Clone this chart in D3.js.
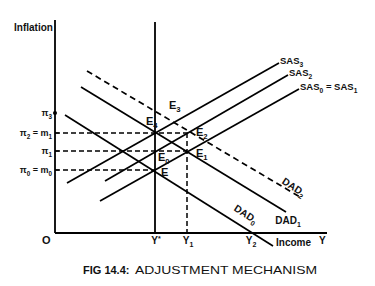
<!DOCTYPE html>
<html>
<head>
  <meta charset="UTF-8">
  <style>
    body { margin: 0; background: white; }
    svg { display: block; font-family: "Liberation Sans", Arial, sans-serif; }
    .lbl { font-weight: bold; fill: #111; }
  </style>
</head>
<body>
<svg></svg>
<script src="https://d3js.org/d3.v7.min.js"></script>
<script>

let width = 375, height = 286;

// income ticks (x) and inflation ticks (y), in chart units
const xTickNames = ["Y^*", "Y_1", "Y_2"];
const xTickValues = [100, 132, 195];
const yTickNames = ["π_0 = m_0", "π_1", "π_2 = m_1", "π_3"];
const yTickValues = [63, 82, 100, 120];

// curves: name, start point, end point
const curveNames = ["SAS_0 = SAS_1", "SAS_2", "SAS_3", "DAD_0", "DAD_1", "DAD_2"];
const curveStart = [[45, 32], [50, 52], [12, 50], [10, 118], [26, 146], [32, 162]];
const curveEnd   = [[244, 144], [233, 158], [224, 170], [218, -13], [231, 21], [245, 36]];
const curveDashed = [false, false, false, false, false, true];

// equilibrium points
const eqNames = ["E", "E_0", "E_1", "E_2", "E_3", "E_4"];
const eqPoints = [[100, 63], [100, 82], [132, 82], [133, 100], [100, 120], [100, 100]];

const yStar = 100;
const xMax = 272, yMax = 213;

let svg = d3.select("svg").attr("width", width).attr("height", height);

let x = d3.scaleLinear().domain([0, xMax]).range([55, 327]);
let y = d3.scaleLinear().domain([0, yMax]).range([233, 20]);

// write text with _x subscripts and ^x superscripts
function rich(sel, str, size) {
  sel.attr("font-size", size);
  let parts = str.split(/([_^].)/).filter(p => p !== "");
  let shift = 0;
  parts.forEach(p => {
    if (p[0] === "_" || p[0] === "^") {
      let d = p[0] === "_" ? 3 : -3;
      sel.append("tspan").attr("font-size", size * 0.7).attr("dy", d - shift).text(p[1]);
      shift = d;
    } else {
      sel.append("tspan").attr("font-size", size).attr("dy", -shift).text(p);
      shift = 0;
    }
  });
}

// axes
svg.append("line").attr("x1", x(0)).attr("x2", x(0)).attr("y1", y(0)).attr("y2", y(yMax))
  .attr("stroke", "black").attr("stroke-width", 1.8);
svg.append("line").attr("x1", x(0)).attr("x2", x(xMax)).attr("y1", y(0)).attr("y2", y(0))
  .attr("stroke", "black").attr("stroke-width", 1.8);
// Y* vertical
svg.append("line").attr("x1", x(yStar)).attr("x2", x(yStar)).attr("y1", y(0)).attr("y2", y(yMax - 2))
  .attr("stroke", "black").attr("stroke-width", 1.8);

// dashed guides
let guideEnds = [eqPoints[0], eqPoints[2], eqPoints[3]];
guideEnds.forEach(p => {
  svg.append("line").attr("x1", x(0)).attr("x2", x(p[0])).attr("y1", y(p[1])).attr("y2", y(p[1]))
    .attr("stroke", "black").attr("stroke-width", 1.5).attr("stroke-dasharray", "5,3");
});
svg.append("line").attr("x1", x(xTickValues[1])).attr("x2", x(xTickValues[1]))
  .attr("y1", y(eqPoints[3][1])).attr("y2", y(0))
  .attr("stroke", "black").attr("stroke-width", 1.5).attr("stroke-dasharray", "5,3");

// small ticks on inflation axis
yTickValues.slice(0, 3).forEach(v => {
  svg.append("line").attr("x1", x(0)).attr("x2", x(0) + 4).attr("y1", y(v)).attr("y2", y(v))
    .attr("stroke", "black").attr("stroke-width", 1.2);
});
svg.append("circle").attr("cx", x(0)).attr("cy", y(yTickValues[3])).attr("r", 2).attr("fill", "black");

// curves
curveNames.forEach((n, i) => {
  svg.append("line")
    .attr("x1", x(curveStart[i][0])).attr("y1", y(curveStart[i][1]))
    .attr("x2", x(curveEnd[i][0])).attr("y2", y(curveEnd[i][1]))
    .attr("stroke", "black").attr("stroke-width", 1.7)
    .attr("stroke-dasharray", curveDashed[i] ? "6,4" : null);
});

// curve labels
curveNames.slice(0, 3).forEach((n, i) => {
  let t = svg.append("text").attr("class", "lbl")
    .attr("x", x(curveEnd[i][0]) + 1).attr("y", y(curveEnd[i][1]) + 1);
  rich(t, n, 9.5);
});
// DAD0 rotated
let t0 = svg.append("text").attr("class", "lbl").attr("text-anchor", "middle")
  .attr("transform", `translate(${x(curveEnd[3][0]) - 29},${y(curveEnd[3][1]) - 29}) rotate(33)`);
rich(t0, curveNames[3], 10);
let t1 = svg.append("text").attr("class", "lbl").attr("text-anchor", "middle")
  .attr("x", x(curveEnd[4][0]) + 2).attr("y", y(curveEnd[4][1]) + 12);
rich(t1, curveNames[4], 10);
let t2 = svg.append("text").attr("class", "lbl").attr("text-anchor", "middle")
  .attr("transform", `translate(${x(curveEnd[5][0]) - 8},${y(curveEnd[5][1]) - 7}) rotate(33)`);
rich(t2, curveNames[5], 10);

// equilibrium labels
let eqOff = [[6, 6], [3, 10], [9, 6], [8, 3], [14, -4], [-9, -8]];
eqNames.forEach((n, i) => {
  let t = svg.append("text").attr("class", "lbl")
    .attr("x", x(eqPoints[i][0]) + eqOff[i][0]).attr("y", y(eqPoints[i][1]) + eqOff[i][1]);
  rich(t, n, 11);
});

// inflation tick labels
yTickNames.forEach((n, i) => {
  let t = svg.append("text").attr("class", "lbl")
    .attr("text-anchor", "end")
    .attr("x", x(0) - 3).attr("y", y(yTickValues[i]) + 3);
  rich(t, n, 9);
});

// income tick labels
xTickNames.forEach((n, i) => {
  let t = svg.append("text").attr("class", "lbl").attr("text-anchor", "middle")
    .attr("x", x(xTickValues[i]) + 1).attr("y", y(0) + 11);
  rich(t, n, 10);
});

// axis titles
svg.append("text").attr("class", "lbl").attr("font-weight", "normal").attr("font-size", 10)
  .attr("x", 14).attr("y", 31).text("Inflation");
svg.append("text").attr("class", "lbl").attr("font-weight", "normal").attr("font-size", 10)
  .attr("x", 276).attr("y", 246).text("Income");
svg.append("text").attr("class", "lbl").attr("font-size", 10).attr("x", 319).attr("y", 244).text("Y");
svg.append("text").attr("class", "lbl").attr("font-size", 11).attr("x", 42).attr("y", 244).text("O");

// caption
svg.append("text").attr("x", 83).attr("y", 274).attr("font-size", 11).attr("font-weight", "bold")
  .attr("fill", "#111").text("FIG 14.4:");
svg.append("text").attr("x", 135).attr("y", 274).attr("font-size", 11)
  .attr("fill", "#111").attr("textLength", 182).attr("lengthAdjust", "spacingAndGlyphs")
  .text("ADJUSTMENT MECHANISM");

</script>
</body>
</html>
